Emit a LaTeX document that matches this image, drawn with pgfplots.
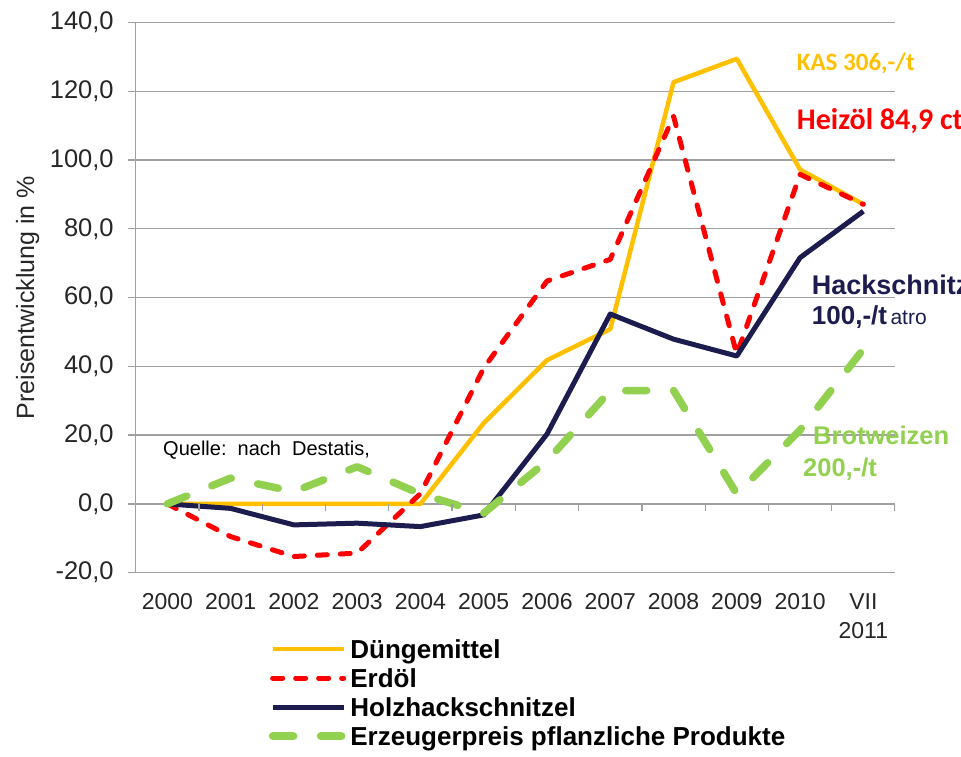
\documentclass[border=0pt]{standalone}
\usepackage{fontspec}
\setmainfont{Liberation Sans}
\newfontfamily\carlito{Carlito}
\usepackage{pgfplots}
\pgfplotsset{compat=1.18}
\definecolor{cOrange}{RGB}{255,192,0}
\definecolor{cRed}{RGB}{255,0,0}
\definecolor{cNavy}{RGB}{28,28,78}
\definecolor{cGreen}{RGB}{146,208,80}
\definecolor{cGrid}{RGB}{160,160,160}
\definecolor{cText}{RGB}{38,38,38}
\begin{document}
\begin{tikzpicture}[x=1pt,y=1pt]
\useasboundingbox (0,0) rectangle (961,757);
\begin{axis}[
  at={(135.7pt,184.3pt)}, anchor=south west,
  width=759.3pt, height=550.3pt, scale only axis,
  xmin=-0.5, xmax=11.5, ymin=-20, ymax=140,
  axis x line*=bottom, axis y line*=left,
  axis line style={cGrid, line width=1.3pt},
  xtick={0,...,11},
  xticklabels={2000,2001,2002,2003,2004,2005,2006,2007,2008,2009,2010,{VII\\2011}},
  x tick style={draw=none},
  ytick={-20,0,...,140},
  y tick style={cGrid, line width=1.3pt},
  tick align=outside, major tick length=7.5pt,
  ymajorgrids, grid style={cGrid, line width=1.3pt},
  yticklabel style={font=\fontsize{25.5}{30}\selectfont, text=cText, xshift=-11pt,
    /pgf/number format/.cd, fixed, fixed zerofill, precision=1, use comma, assume math mode=true},
  xticklabel style={font=\fontsize{23}{29}\selectfont, text=cText, align=center, anchor=north, yshift=-10pt},
  legend style={at={(0.17516,-0.1168)}, anchor=north west, draw=none, fill=none, inner sep=0pt,
    font=\fontsize{26}{29}\selectfont\bfseries,
    nodes={inner sep=3pt, text height=18pt, text depth=0pt},
    /tikz/row sep=5pt, /tikz/column sep=0pt},
  legend cell align=left,
  legend image code/.code={\draw[#1] (0pt,0pt) -- (71pt,0pt);},
  no markers,
]
\addplot[cOrange, line width=4.5pt, line join=round] coordinates {
 (0,0) (1,0) (2,0) (3,0) (4,0) (5,23.5) (6,41.8) (7,50.8) (8,122.6) (9,129.4) (10,97.2) (11,87.1)};
\addlegendentry{Düngemittel}
\addplot[cRed, line width=5pt, line cap=round, line join=round, dash pattern=on 10pt off 13pt] coordinates {
 (0,0) (1,-9.5) (2,-15.3) (3,-14.3) (4,3) (5,39.5) (6,64.8) (7,71.1) (8,112.7) (9,43.5) (10,95.8) (11,87.1)};
\addlegendentry{Erdöl}
\addplot[cNavy, line width=5pt, line join=round] coordinates {
 (0,0) (1,-1.3) (2,-6.1) (3,-5.6) (4,-6.6) (5,-3.2) (6,20.3) (7,55.2) (8,47.9) (9,43.0) (10,71.6) (11,85.1)};
\addlegendentry{Holzhackschnitzel}
\addplot[cGreen, line width=7.5pt, line cap=round, line join=round, dash pattern=on 21pt off 27pt] coordinates {
 (0,0) (1,7.5) (2,3.6) (3,10.8) (4,2.9) (5,-2.7) (6,12.5) (7,32.9) (8,33) (9,2.9) (10,21.5) (11,45)};
\addlegendentry{Erzeugerpreis pflanzliche Produkte}
\pgfplotsinvokeforeach{0.5,1.5,...,11.5}{\draw[cGrid, line width=1.3pt] (axis cs:#1,0) -- ++(0pt,-7.5pt);}
\end{axis}
\node[rotate=90, anchor=base, inner sep=0pt, text=cText, font=\fontsize{25}{30}\selectfont] at (34,459.5) {Preisentwicklung in \%};
\node[anchor=base west, inner sep=0pt, text=black, font=\fontsize{20}{24}\selectfont] at (163,301) {Quelle:\ \ nach\ \ Destatis,};
\node[anchor=base west, inner sep=0pt, text=cOrange, font=\carlito\bfseries\fontsize{25}{30}\selectfont] at (796.7,686.3) {KAS 306,-/t};
\node[anchor=base west, inner sep=0pt, text=cRed, font=\carlito\bfseries\fontsize{30}{36}\selectfont] at (796.7,627) {Heizöl 84,9 ct};
\node[anchor=base west, inner sep=0pt, text=cNavy, font=\bfseries\fontsize{27}{32}\selectfont] at (811.7,462) {Hackschnitz};
\node[anchor=base west, inner sep=0pt, text=cNavy, font=\bfseries\fontsize{26}{31}\selectfont] at (811.7,432) {100,-/t{\mdseries\fontsize{21}{25}\selectfont\,atro}};
\node[anchor=base west, inner sep=0pt, text=cGreen, font=\bfseries\fontsize{25.5}{30}\selectfont] at (813,312) {Brotweizen};
\node[anchor=base west, inner sep=0pt, text=cGreen, font=\bfseries\fontsize{25.5}{30}\selectfont] at (803,280.3) {200,-/t};
\end{tikzpicture}
\end{document}
